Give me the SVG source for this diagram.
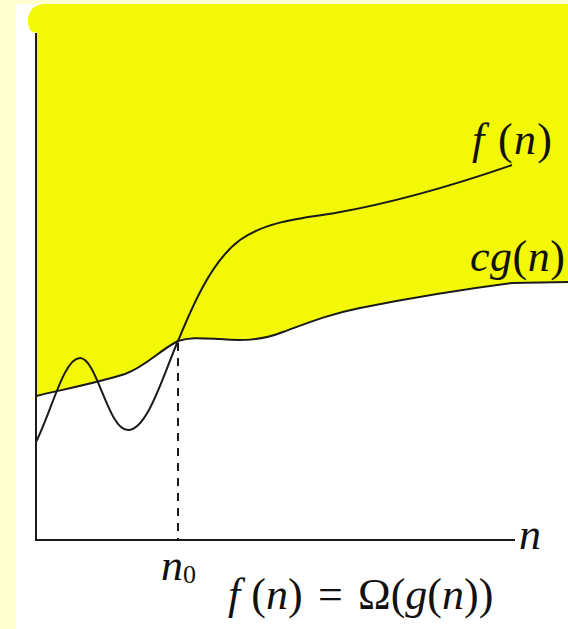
<svg xmlns="http://www.w3.org/2000/svg" width="568" height="629" viewBox="0 0 568 629">
  <style>
    .axis { fill: none; stroke: #1a1a1a; stroke-width: 2; }
    .curve { fill: none; stroke: #1a1a1a; stroke-width: 2; }
    .dash { fill: none; stroke: #1a1a1a; stroke-width: 2; stroke-dasharray: 8 7; }
    .lbl { font-family: "Liberation Serif", "Times New Roman", serif; font-size: 44px; fill: #111; }
    .it { font-style: italic; }
  </style>
  <rect x="0" y="0" width="568" height="629" fill="#FFFFD2"/>
  <rect x="16" y="4" width="552" height="625" fill="#FFFFFF"/>
  <g id="region">
    <path d="M28,22 Q28,4 46,4 L568,4 L568,282 L512,283 C450,291 400,300 360,308 C330,314 310,322 283,332 C260,341 240,341 220,339 C200,338 190,337 178,341 C160,350 145,367 125,374 C100,382 70,388 36,396 L36,33 Q28,32 28,22 Z" fill="#F2F805"/>
  </g>
  <g id="axes">
    <path class="axis" d="M36,33 L36,540 L515,540"/>
  </g>
  <g id="connectors">
    <path id="cg" class="curve" d="M36,396 C70,388 100,382 125,374 C145,367 160,350 178,341 C190,337 200,338 220,339 C240,341 260,341 283,332 C310,322 330,314 360,308 C400,300 450,291 512,283"/>
    <path class="curve" stroke-width="3" d="M512,283 L568,282"/>
    <path id="f" class="curve" d="M36,442 C52,410 64,358 80,358 C97,358 108,430 128,430 C148,430 165,370 178,341 C190,312 210,262 240,240 C265,222 300,218 335,213 C380,205 440,190 512,165"/>
    <path class="dash" d="M178,343 L178,540"/>
  </g>
  <g id="label-f">
    <text class="lbl" x="472" y="154" textLength="80" lengthAdjust="spacing"><tspan class="it">f</tspan> (<tspan class="it">n</tspan>)</text>
  </g>
  <g id="label-cg">
    <text class="lbl" x="470" y="271" textLength="95" lengthAdjust="spacing"><tspan class="it">cg</tspan>(<tspan class="it">n</tspan>)</text>
  </g>
  <g id="label-n">
    <text class="lbl it" x="519" y="549">n</text>
  </g>
  <g id="label-n0">
    <text class="lbl" x="161" y="580" font-size="36"><tspan class="it">n</tspan><tspan font-size="26" dy="3">0</tspan></text>
  </g>
  <g id="formula">
    <text class="lbl" y="609" font-size="42"><tspan x="228" class="it">f</tspan> (<tspan class="it">n</tspan>)<tspan x="318">=</tspan><tspan x="358">Ω(</tspan><tspan class="it">g</tspan>(<tspan class="it">n</tspan>))</text>
  </g>
</svg>
